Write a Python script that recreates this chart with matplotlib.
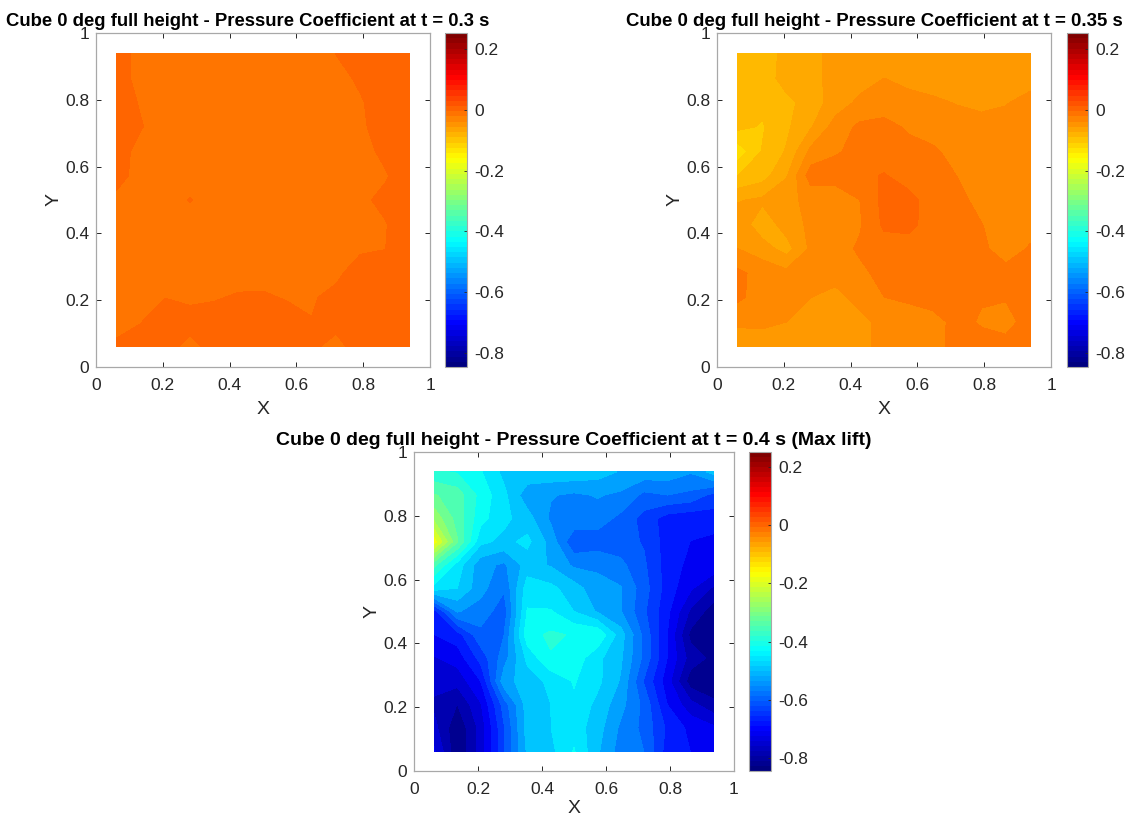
import numpy as np
import matplotlib
matplotlib.use("Agg")
import matplotlib.pyplot as plt
from matplotlib.colors import Normalize, LinearSegmentedColormap
from matplotlib.cm import ScalarMappable

plt.rcParams['font.family'] = ['Liberation Sans', 'DejaVu Sans']

grid_coords = np.array([0.0625, 0.1354, 0.2083, 0.2812, 0.3542, 0.4271, 0.5,
                        0.5729, 0.6458, 0.7188, 0.7917, 0.8646, 0.9375])
y_rows = grid_coords[::-1]
tick_values = [0, 0.2, 0.4, 0.6, 0.8, 1]
tick_labels = ['0', '0.2', '0.4', '0.6', '0.8', '1']
cbar_ticks = [-0.8, -0.6, -0.4, -0.2, 0, 0.2]
cbar_labels = ['-0.8', '-0.6', '-0.4', '-0.2', '0', '0.2']
cp_min, cp_max = -0.846, 0.253

titles = ['Cube 0 deg full height - Pressure Coefficient at t = 0.3 s',
          'Cube 0 deg full height - Pressure Coefficient at t = 0.35 s',
          'Cube 0 deg full height - Pressure Coefficient at t = 0.4 s (Max lift)']

# rows run from y = 0.9375 at the top to y = 0.0625 at the bottom
cp_03 = [
 [.010,-.014,-.016,-.016,-.016,-.016,-.016,-.016,-.014,-.003,.008,.010,.010],
 [.010,-.014,-.016,-.016,-.016,-.016,-.016,-.016,-.016,-.012,.001,.010,.010],
 [.010,-.006,-.016,-.016,-.016,-.016,-.016,-.016,-.016,-.014,-.006,.010,.010],
 [.010,-.002,-.016,-.016,-.016,-.016,-.016,-.016,-.016,-.014,-.007,.006,.010],
 [.010,-.014,-.016,-.016,-.016,-.016,-.016,-.016,-.016,-.016,-.012,.002,.010],
 [.006,-.014,-.016,-.016,-.016,-.016,-.016,-.016,-.016,-.016,-.014,-.006,.010],
 [-.010,-.016,-.016,-.002,-.016,-.016,-.016,-.016,-.016,-.016,-.008,.002,.010],
 [-.016,-.016,-.016,-.016,-.016,-.016,-.016,-.016,-.016,-.016,-.014,-.005,.010],
 [-.016,-.016,-.016,-.016,-.016,-.016,-.016,-.016,-.016,-.009,-.006,-.004,.010],
 [-.016,-.016,-.016,-.016,-.016,-.016,-.016,-.016,-.016,-.007,.005,.010,.010],
 [-.016,-.008,-.004,-.010,-.006,.000,.001,-.006,-.005,.001,.010,.010,.010],
 [-.014,-.004,.010,.010,.010,.010,.010,.010,-.003,.005,.010,.010,.010],
 [.002,.004,.010,-.014,.010,.010,.010,.010,.002,-.012,.010,.010,.010],
]

cp_035 = [
 [-.088,-.088,-.070,-.066,-.050,-.048,-.048,-.048,-.048,-.048,-.048,-.048,-.048],
 [-.090,-.088,-.068,-.066,-.050,-.048,-.040,-.045,-.048,-.050,-.050,-.050,-.046],
 [-.090,-.090,-.082,-.068,-.050,-.036,-.034,-.034,-.037,-.041,-.044,-.041,-.035],
 [-.090,-.097,-.080,-.060,-.032,-.018,-.014,-.025,-.032,-.032,-.034,-.034,-.034],
 [-.125,-.094,-.075,-.035,-.024,-.016,-.014,-.014,-.018,-.030,-.032,-.032,-.032],
 [-.095,-.085,-.060,-.012,-.012,-.008,-.002,-.012,-.013,-.022,-.030,-.032,-.032],
 [-.060,-.055,-.045,-.035,-.036,-.022,.002,.003,-.012,-.014,-.030,-.034,-.034],
 [-.046,-.070,-.050,-.036,-.034,-.024,.000,.002,-.012,-.012,-.021,-.034,-.028],
 [-.040,-.050,-.066,-.036,-.030,-.019,-.012,-.012,-.012,-.012,-.018,-.030,-.020],
 [-.018,-.028,-.035,-.040,-.034,-.026,-.016,-.012,-.012,-.012,-.012,-.016,-.012],
 [-.018,-.030,-.032,-.040,-.045,-.035,-.022,-.018,-.012,-.012,-.020,-.020,-.012],
 [-.037,-.036,-.040,-.045,-.050,-.045,-.035,-.033,-.030,-.015,-.024,-.030,-.012],
 [-.050,-.050,-.050,-.050,-.050,-.044,-.036,-.032,-.028,-.016,-.014,-.014,-.012],
]

cp_04 = [
 [-.40,-.41,-.44,-.49,-.49,-.49,-.49,-.50,-.52,-.53,-.53,-.55,-.50],
 [-.33,-.35,-.42,-.47,-.54,-.55,-.56,-.55,-.56,-.60,-.59,-.60,-.64],
 [-.27,-.35,-.43,-.47,-.50,-.56,-.56,-.57,-.60,-.64,-.68,-.69,-.68],
 [-.17,-.33,-.47,-.49,-.47,-.53,-.62,-.61,-.61,-.63,-.68,-.70,-.71],
 [-.36,-.46,-.54,-.56,-.50,-.52,-.56,-.56,-.58,-.62,-.68,-.71,-.71],
 [-.46,-.48,-.54,-.585,-.46,-.47,-.50,-.54,-.55,-.61,-.68,-.73,-.78],
 [-.68,-.55,-.57,-.61,-.44,-.44,-.48,-.52,-.55,-.62,-.69,-.78,-.83],
 [-.70,-.68,-.60,-.59,-.42,-.40,-.41,-.41,-.50,-.60,-.70,-.82,-.84],
 [-.74,-.72,-.65,-.57,-.47,-.41,-.42,-.47,-.51,-.60,-.70,-.79,-.82],
 [-.76,-.76,-.70,-.53,-.50,-.47,-.44,-.47,-.52,-.63,-.72,-.83,-.84],
 [-.78,-.81,-.74,-.61,-.50,-.48,-.45,-.49,-.54,-.60,-.70,-.76,-.80],
 [-.76,-.84,-.76,-.63,-.50,-.48,-.46,-.50,-.56,-.60,-.67,-.71,-.73],
 [-.73,-.84,-.76,-.63,-.51,-.49,-.44,-.51,-.57,-.59,-.68,-.70,-.70],
]

W, H = 1148, 817
panels = [
    (cp_03, titles[0], (96, 33, 430, 367), (445, 467), 248, 61, 13.3, 6),
    (cp_035, titles[1], (717, 33, 1051, 367), (1067, 1088), 874, 61, 13.4, 6),
    (cp_04, titles[2], (414, 452, 734, 771), (749, 771), 574, 31, 14.0, 2),
]

matlab_jet = LinearSegmentedColormap('matlab_jet', {
    'red': [(0, 0, 0), (.375, 0, 0), (.625, 1, 1), (.875, 1, 1), (1, .5, .5)],
    'green': [(0, 0, 0), (.125, 0, 0), (.375, 1, 1), (.625, 1, 1), (.875, 0, 0), (1, 0, 0)],
    'blue': [(0, .5, .5), (.125, 1, 1), (.375, 1, 1), (.625, 0, 0), (1, 0, 0)],
})
frame = '#a8a8a8'
ink = '#262626'
fig = plt.figure(figsize=(W / 100, H / 100), dpi=100)

def rect(l, t, r, b):
    return [l / W, 1 - b / H, (r - l) / W, (b - t) / H]

for cp, title, (l, t, r, b), (cl, cr), tc, nlev, tsize, xpad in panels:
    ax = fig.add_axes(rect(l, t, r, b))
    ax.contourf(grid_coords, y_rows, np.array(cp), levels=np.linspace(cp_min, cp_max, nlev),
                cmap=matlab_jet, norm=Normalize(cp_min, cp_max))
    ax.set_xlim(0, 1)
    ax.set_ylim(0, 1)
    ax.set_xticks(tick_values, tick_labels)
    ax.set_yticks(tick_values, tick_labels)
    ax.tick_params(direction='in', length=3.3, width=0.7, top=True, right=True,
                   labelsize=12.5, colors=ink)
    ax.tick_params(axis='x', pad=8)
    ax.tick_params(axis='y', pad=5)
    for s in ax.spines.values():
        s.set_color(frame)
        s.set_linewidth(0.9)
    ax.set_xlabel('X', fontsize=14, color=ink, labelpad=xpad)
    ax.set_ylabel('Y', fontsize=14, color=ink, labelpad=1.5)
    ax.set_title(title, fontsize=tsize, fontweight='bold', color='black',
                 x=(tc - l) / (r - l), y=1.0, pad=5)
    cax = fig.add_axes(rect(cl, t, cr, b))
    sm = ScalarMappable(norm=Normalize(cp_min, cp_max), cmap=matlab_jet.resampled(64))
    cb = fig.colorbar(sm, cax=cax)
    cb.set_ticks(cbar_ticks, labels=cbar_labels)
    cax.tick_params(direction='in', length=2, width=0.6, labelsize=12.5, colors=ink, pad=5)
    cb.outline.set_edgecolor(frame)
    cb.outline.set_linewidth(0.8)

fig.savefig('out.png', dpi=100)
